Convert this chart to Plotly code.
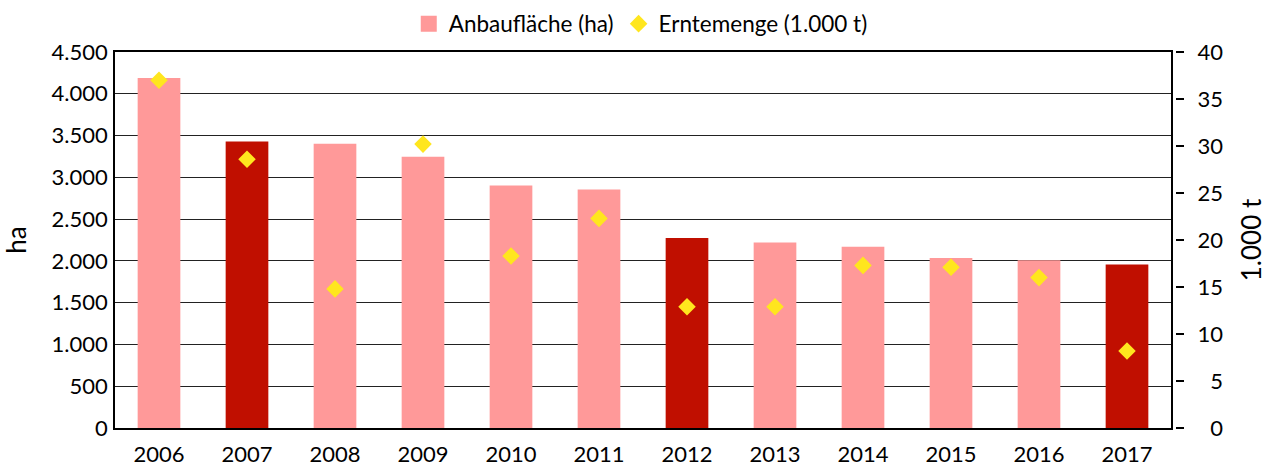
import plotly.graph_objects as go

years = ["2006", "2007", "2008", "2009", "2010", "2011",
         "2012", "2013", "2014", "2015", "2016", "2017"]
anbauflaeche_ha = [4190, 3428, 3402, 3245, 2903, 2853,
                   2275, 2220, 2168, 2036, 2008, 1956]
erntemenge_kt = [37.0, 28.6, 14.8, 30.2, 18.3, 22.3,
                 12.9, 12.9, 17.3, 17.1, 16.0, 8.2]
highlight_years = {"2007", "2012", "2017"}

left_ticks = list(range(0, 4501, 500))
left_ticktext = ["0", "500", "1.000", "1.500", "2.000", "2.500",
                 "3.000", "3.500", "4.000", "4.500"]
right_ticks = list(range(0, 41, 5))
right_ticktext = ["\u20070", "\u20075", "10", "15", "20", "25", "30", "35", "40"]

PINK = "#FF9999"
DARK = "#C00F00"
YELLOW = "#FFE61E"
FONT = "Lato"

bar_colors = [DARK if y in highlight_years else PINK for y in years]

fig = go.Figure()
fig.add_trace(go.Bar(
    x=years, y=anbauflaeche_ha, marker=dict(color=bar_colors, line=dict(width=0)),
    width=0.485, showlegend=False, name="Anbaufläche (ha)",
))
# legend entry for the area bars
fig.add_trace(go.Scatter(
    x=[None], y=[None], mode="markers", name="Anbaufläche (ha)",
    marker=dict(symbol="square", size=17, color=PINK),
))
fig.add_trace(go.Scatter(
    x=years, y=erntemenge_kt, mode="markers", name="Erntemenge (1.000 t)",
    marker=dict(symbol="diamond", size=13.5, color=YELLOW), yaxis="y2",
))

W, H = 1267, 468
left, right_edge, top, bottom = 115, 1171, 52, 428
axis2_x = 1175
plot_h = bottom - top
fig.update_layout(
    width=W, height=H,
    margin=dict(l=left, r=W - axis2_x, t=top, b=H - bottom, pad=0, autoexpand=False),
    paper_bgcolor="white", plot_bgcolor="white",
    font=dict(family=FONT, size=22, color="#000"),
    bargap=0.515,
    xaxis=dict(
        domain=[0, (right_edge - left) / (axis2_x - left)],
        type="category", range=[-0.5, len(years) - 0.5],
        showline=True, linecolor="#000", linewidth=1.5, mirror=True,
        ticks="", ticklabelstandoff=6, showgrid=False, automargin=False,
    ),
    yaxis=dict(
        range=[0, 4500], tickvals=left_ticks, ticktext=left_ticktext,
        showline=True, linecolor="#000", linewidth=1.5, mirror=True,
        showgrid=True, gridcolor="#222", gridwidth=1.2,
        ticks="", ticklabelstandoff=1, zeroline=False, automargin=False,
        title=dict(text="ha", standoff=35),
    ),
    yaxis2=dict(
        range=[0, 40], tickvals=right_ticks, ticktext=right_ticktext,
        overlaying="y", side="right", anchor="free", position=1,
        showline=False, showgrid=False, zeroline=False, automargin=False,
        ticks="outside", ticklen=8, tickwidth=1.5, tickcolor="#000",
        ticklabelstandoff=9,
        title=dict(text="1.000 t", standoff=40),
    ),
    legend=dict(
        orientation="h", x=0.496, xanchor="center",
        y=1 + (top - 24) / plot_h, yanchor="middle",
        bgcolor="rgba(0,0,0,0)", font=dict(size=22.5), itemsizing="trace",
    ),
)

fig.write_html("out.html")
